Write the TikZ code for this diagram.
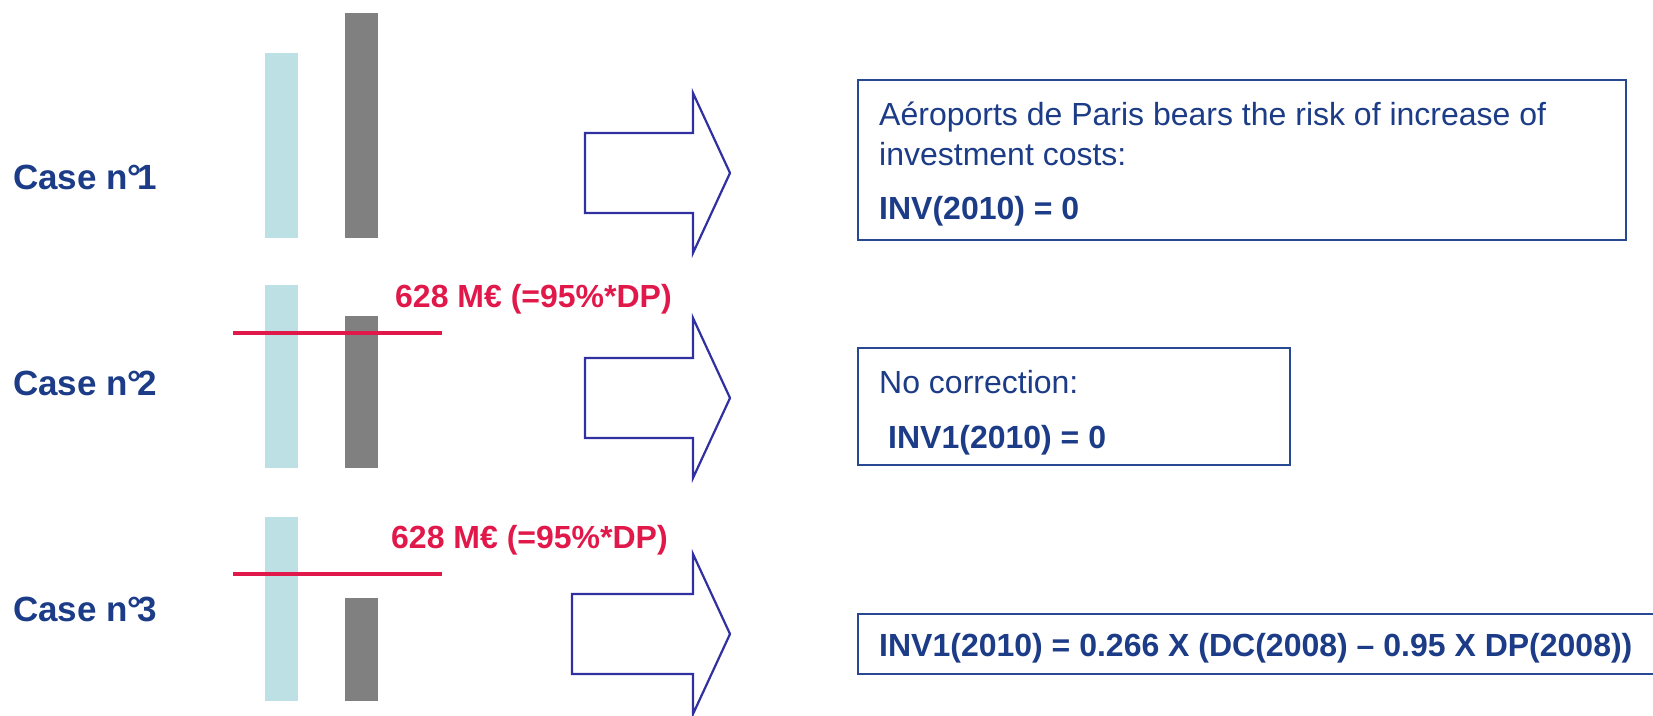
\documentclass[tikz,border=0pt]{standalone}
\usepackage{fontspec}
\setmainfont{Liberation Sans}
\definecolor{navy}{RGB}{28,60,135}
\definecolor{boxblue}{RGB}{40,72,145}
\definecolor{arrowblue}{RGB}{48,48,160}
\definecolor{lightbar}{RGB}{188,224,227}
\definecolor{darkbar}{RGB}{128,128,128}
\definecolor{crimson}{RGB}{225,25,75}
\tikzset{
  casetxt/.style={anchor=base west,inner sep=0pt,text=navy,font=\fontsize{35}{40}\selectfont\bfseries},
  redtxt/.style={anchor=base west,inner sep=0pt,text=crimson,font=\fontsize{32}{38}\selectfont\bfseries},
  bodytxt/.style={anchor=base west,inner sep=0pt,text=navy,font=\fontsize{32}{38}\selectfont},
  boldtxt/.style={anchor=base west,inner sep=0pt,text=navy,font=\fontsize{32}{38}\selectfont\bfseries},
  infobox/.style={draw=boxblue,line width=2.2pt,anchor=north west,inner sep=0pt},
  bigarrow/.style={draw=arrowblue,line width=2.2pt,line join=miter,fill=white},
  redline/.style={draw=crimson,line width=4pt},
}
\begin{document}
\begin{tikzpicture}[x=1pt,y=-1pt]
\clip (0,0) rectangle (1653,715);
\fill[white] (0,0) rectangle (1653,715);
% case labels
\node[casetxt] (c1) at (13,189) {Case n°\kern-0.12em1};
\node[casetxt] (c2) at (13,395) {Case n°\kern-0.12em2};
\node[casetxt] (c3) at (13,621) {Case n°\kern-0.12em3};
% bars case 1
\fill[lightbar] (265,53) rectangle (298,238);
\fill[darkbar] (345,13) rectangle (378,238);
% bars case 2
\fill[lightbar] (265,285) rectangle (298,468);
\fill[darkbar] (345,316) rectangle (378,468);
% bars case 3
\fill[lightbar] (265,517) rectangle (298,701);
\fill[darkbar] (345,598) rectangle (378,701);
% red thresholds
\coordinate (r2a) at (233,333);
\coordinate (r2b) at (442,333);
\draw[redline] (r2a) -- (r2b);
\coordinate (r3a) at (233,573.5);
\coordinate (r3b) at (442,573.5);
\draw[redline] (r3a) -- (r3b);
\node[redtxt] (l2) at (395,307) {628 M€ (=95\%*DP)};
\node[redtxt] (l3) at (391,548) {628 M€ (=95\%*DP)};
% block arrows
\draw[bigarrow] (585,133) -- (693,133) -- (693,93) -- (730,173) -- (693,253) -- (693,213) -- (585,213) -- cycle;
\draw[bigarrow] (585,358) -- (693,358) -- (693,318) -- (730,398) -- (693,478) -- (693,438) -- (585,438) -- cycle;
\draw[bigarrow] (572,594) -- (693,594) -- (693,554) -- (730,634) -- (693,714) -- (693,674) -- (572,674) -- cycle;
% boxes
\node[infobox,minimum width=768pt,minimum height=160pt] (b1) at (857,79) {};
\node[bodytxt] (t11) at (879,125) {Aéroports de Paris bears the risk of increase of};
\node[bodytxt] (t12) at (879,165) {investment costs:};
\node[boldtxt] (t13) at (879,219) {INV(2010) = 0};
\node[infobox,minimum width=432pt,minimum height=117pt] (b2) at (857,347) {};
\node[bodytxt] (t21) at (879,393) {No correction:};
\node[boldtxt] (t22) at (888,448.5) {INV1(2010) = 0};
\node[infobox,minimum width=860pt,minimum height=60pt] (b3) at (857,613) {};
\node[boldtxt] (t31) at (879,656) {INV1(2010) = 0.266 X (DC(2008) – 0.95 X DP(2008))};
\end{tikzpicture}
\end{document}
